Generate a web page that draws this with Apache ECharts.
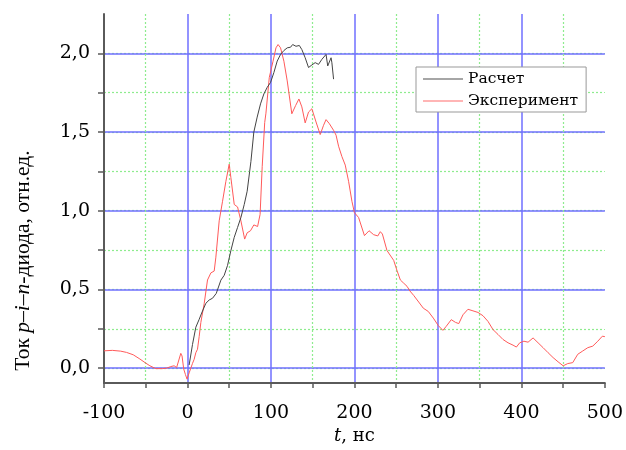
<!DOCTYPE html>
<html>
<head>
<meta charset="utf-8">
<script src="https://cdn.jsdelivr.net/npm/echarts@6/dist/echarts.min.js"></script>
<style>html,body{margin:0;padding:0;background:#fff;}#c{width:626px;height:450px;}</style>
</head>
<body>
<div id="c"></div>
<script>
// Experiment (Эксперимент): time, ns and relative current
var expT = [-100,-90,-80,-73,-65,-57,-50,-45,-38,-30,-25,-20,-16,-13,-11,-8,-6.5,-4.5,-2.5,-0.5,2,6,8,10,12,14,16,20,24,28,32,34,38,42,46,50,52,56,60,64,68.5,71.5,75.5,79.5,84,87,89.5,92.5,94,98,102.5,106,108.5,111.5,115.5,119.5,125,129.5,133.5,137,141,145,149,154,159,163,166,170,175,178,181,185,189,193,197,200,205,212,217.5,223,228,231,233.5,239,247,251,255,259,263,266.5,271,277,282.5,288.5,294.5,300.5,306,310,316,321,325,330,336,342,348,354,360,366,372,378,384,390,394,398,403,408,414,420,426,432,438,444,450,455.5,461.5,467.5,473.5,479.5,485.5,491.5,497,500];
var expI = [0.11,0.113,0.108,0.10,0.085,0.058,0.032,0.015,-0.003,-0.003,0.0,0.01,0.015,0.004,-0.006,0.094,0.077,-0.006,-0.04,-0.07,-0.03,0.03,0.056,0.098,0.12,0.2,0.29,0.41,0.56,0.605,0.617,0.705,0.936,1.06,1.187,1.296,1.21,1.04,1.024,0.936,0.82,0.86,0.873,0.91,0.9,0.977,1.28,1.56,1.62,1.847,1.95,2.035,2.056,2.035,1.95,1.825,1.616,1.668,1.71,1.66,1.558,1.627,1.648,1.564,1.484,1.543,1.579,1.553,1.511,1.48,1.41,1.344,1.29,1.187,1.06,0.988,0.957,0.842,0.873,0.848,0.84,0.867,0.852,0.747,0.685,0.62,0.56,0.54,0.52,0.49,0.462,0.42,0.381,0.36,0.318,0.27,0.24,0.266,0.308,0.291,0.283,0.339,0.374,0.364,0.354,0.333,0.297,0.245,0.214,0.182,0.161,0.146,0.134,0.161,0.171,0.165,0.192,0.161,0.13,0.098,0.067,0.04,0.015,0.029,0.035,0.088,0.109,0.13,0.14,0.171,0.203,0.2];
// Calculation (Расчет)
var calcT = [2,3.2,6,10,14,17,22,26,30,34.5,40,44,48,52,56,60,64,68,71.5,74.5,76,79.5,83.5,87.5,91.5,95.5,99.5,103.5,107.5,111.5,115.5,119.5,123.5,126,130,134,137,141,145,149,153,157,161,166,168,170,172,173,175];
var calcI = [0.02,0.015,0.15,0.26,0.31,0.35,0.412,0.433,0.444,0.475,0.559,0.59,0.653,0.747,0.831,0.894,0.957,1.04,1.124,1.25,1.313,1.50,1.595,1.679,1.742,1.784,1.815,1.878,1.951,1.993,2.018,2.035,2.039,2.056,2.045,2.05,2.024,1.972,1.91,1.926,1.941,1.93,1.962,1.993,1.92,1.91,1.972,1.94,1.836];
// Tick values
var xTickLabels = [-100,0,100,200,300,400,500];
var yMajor = [0,0.5,1.0,1.5,2.0];
var yMinor = [0,0.25,0.5,0.75,1.0,1.25,1.5,1.75,2.0];

function zip(a,b){return a.map(function(v,i){return [v,b[i]];});}
var FONT = 'DejaVu Serif';
var FONT_V = 'Liberation Serif';
var axisColor = '#5a5a5a';
var blue = '#6f6fff';
var green = '#8eec8e';

var chart = echarts.init(document.getElementById('c'), null, {renderer:'canvas'});
chart.setOption({
  animation:false,
  backgroundColor:'#fff',
  grid:{left:104,right:18,top:14,bottom:63,containLabel:false},
  xAxis:{
    type:'value', min:-100, max:500, interval:100,
    name:'{i|t}, нс', nameLocation:'middle', nameGap:41,
    nameTextStyle:{fontFamily:FONT,fontSize:18,color:'#000',rich:{i:{fontFamily:FONT,fontSize:18,fontStyle:'italic',color:'#000'}}},
    axisLine:{show:true,onZero:false,lineStyle:{color:axisColor,width:2}},
    axisTick:{show:true,inside:false,length:5,lineStyle:{color:axisColor,width:1.5}},
    minorTick:{show:true,splitNumber:2,length:5,lineStyle:{color:axisColor,width:1.5}},
    axisLabel:{fontFamily:FONT,fontSize:19,color:'#000',margin:20,formatter:function(v){return xTickLabels.indexOf(v)>=0?String(v):'';}},
    splitLine:{show:true,showMinLine:false,showMaxLine:false,lineStyle:{color:blue,width:1.5}},
    minorSplitLine:{show:true,lineStyle:{color:green,width:1.2,type:[2,2]}}
  },
  yAxis:[{
    type:'value', min:-0.095, max:2.25,
    name:'Ток {i|p}–{i|i}–{i|n}-диода, отн.ед.', nameLocation:'middle', nameGap:70, nameRotate:90,
    nameTextStyle:{fontFamily:FONT_V,fontSize:21.5,color:'#000',padding:[0,124,0,0],rich:{i:{fontFamily:FONT_V,fontSize:21.5,fontStyle:'italic',color:'#000'}}},
    axisLine:{show:true,onZero:false,lineStyle:{color:axisColor,width:2}},
    axisTick:{show:true,inside:false,length:6,customValues:yMinor,lineStyle:{color:axisColor,width:1.5}},
    axisLabel:{fontFamily:FONT,fontSize:19,color:'#000',margin:14,customValues:yMajor,formatter:function(v){return v.toFixed(1).replace('.',',');}},
    splitLine:{show:true,lineStyle:{color:green,width:1.2,type:[2,2]}}
  },{
    type:'value', min:-0.095, max:2.25, position:'left',
    axisLine:{show:false}, axisTick:{show:false,customValues:yMajor},
    axisLabel:{show:false,customValues:yMajor},
    splitLine:{show:true,lineStyle:{color:blue,width:1.5}}
  }],
  legend:{
    orient:'vertical', left:416, top:67, padding:[4,8,3,7],
    itemWidth:40, itemHeight:1.5, itemGap:6, icon:'rect',
    backgroundColor:'#fff', borderColor:'#999', borderWidth:1,
    textStyle:{fontFamily:FONT,fontSize:15.5,color:'#000'},
    data:[{name:'Расчет',itemStyle:{color:'#888'}},{name:'Эксперимент',itemStyle:{color:'#ff9c9c'}}]
  },
  series:[{
    name:'Эксперимент', type:'line', data:zip(expT,expI), showSymbol:false, symbol:'none',
    lineStyle:{color:'#ff5a5a',width:1}, itemStyle:{color:'#ff5a5a'}, z:3
  },{
    name:'Расчет', type:'line', data:zip(calcT,calcI), showSymbol:false, symbol:'none',
    lineStyle:{color:'#444',width:1}, itemStyle:{color:'#444'}, z:4
  }]
});
</script>
</body>
</html>
